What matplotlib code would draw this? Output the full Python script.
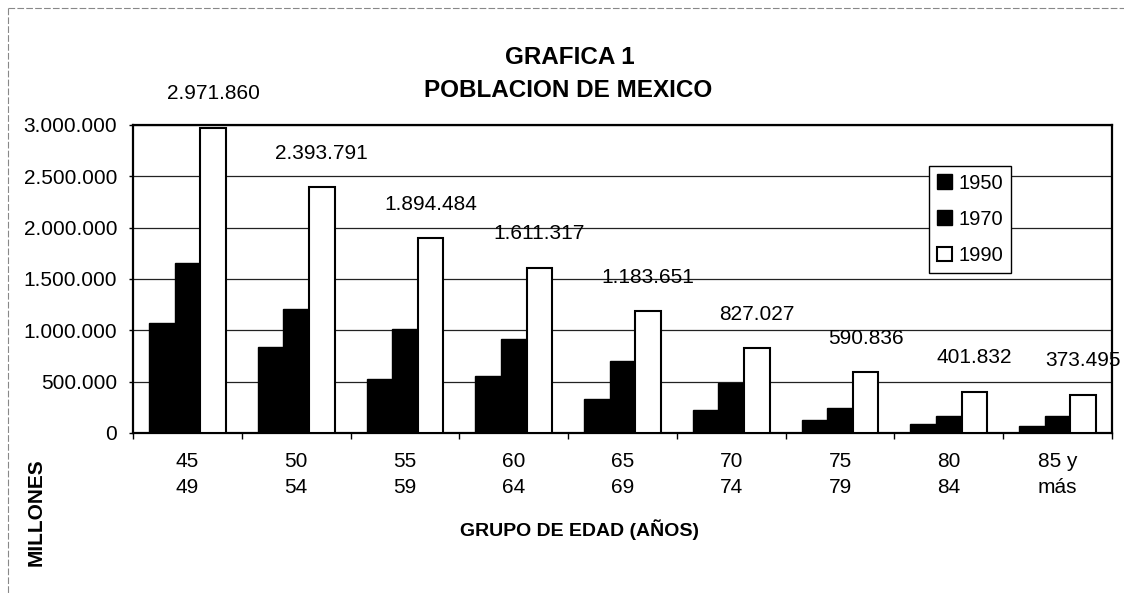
import matplotlib.pyplot as plt
import numpy as np
from matplotlib.lines import Line2D
from matplotlib.ticker import FuncFormatter, FixedLocator

plt.rcParams['font.family'] = ['Liberation Sans', 'DejaVu Sans']

# datos
grupos = ['45\n49', '50\n54', '55\n59', '60\n64', '65\n69', '70\n74', '75\n79', '80\n84', '85 y\nmás']
pob_1950 = [1074000, 841000, 528000, 558000, 331000, 227000, 127000, 85000, 65000]
pob_1970 = [1653000, 1208000, 1013000, 913000, 701000, 487000, 246000, 163000, 163000]
pob_1990 = [2971860, 2393791, 1894484, 1611317, 1183651, 827027, 590836, 401832, 373495]
etiquetas_1990 = ['2.971.860', '2.393.791', '1.894.484', '1.611.317', '1.183.651',
                  '827.027', '590.836', '401.832', '373.495']

fig = plt.figure(figsize=(11.24, 5.99), dpi=100)
ax = fig.add_axes([133 / 1124, 1 - 433 / 599, 979 / 1124, 308 / 599])

x = np.arange(len(grupos))
w = 0.235
ax.bar(x - w, pob_1950, w, color='black', edgecolor='black', linewidth=1, label='1950', zorder=3)
ax.bar(x, pob_1970, w, color='black', edgecolor='black', linewidth=1, label='1970', zorder=3)
ax.bar(x + w, pob_1990, w, color='white', edgecolor='black', linewidth=1.5, label='1990', zorder=3)

# etiquetas de 1990
for xi, v, t in zip(x, pob_1990, etiquetas_1990):
    ax.annotate(t, xy=(xi + w, v), xytext=(0, 24.5), textcoords='offset points',
                ha='center', va='center', fontsize=15, zorder=5)

ax.set_xlim(-0.5, len(grupos) - 0.5)
ax.set_ylim(0, 3000000)
ax.set_yticks(np.arange(0, 3000001, 500000))
ax.yaxis.set_major_formatter(FuncFormatter(lambda v, p: f"{int(v):,}".replace(',', '.')))
ax.grid(axis='y', color='#222222', linewidth=0.9, zorder=0)

# ticks entre grupos, etiquetas al centro
ax.xaxis.set_major_locator(FixedLocator(np.arange(len(grupos) + 1) - 0.5))
ax.xaxis.set_minor_locator(FixedLocator(x))
ax.set_xticklabels([''] * (len(grupos) + 1))
ax.set_xticklabels(grupos, minor=True, linespacing=1.45)
ax.tick_params(axis='x', which='major', direction='out', length=4, width=1)
ax.tick_params(axis='x', which='minor', length=0, pad=14, labelsize=15)
ax.tick_params(axis='y', direction='out', length=3, width=1, pad=8.5, labelsize=15)

for s in ax.spines.values():
    s.set_linewidth(1.6)
    s.set_color('black')

leg = ax.legend(loc='upper left', bbox_to_anchor=(0.813, 0.868), fontsize=14.5,
                frameon=True, fancybox=False, edgecolor='black', framealpha=1,
                handlelength=0.75, handleheight=0.75, handletextpad=0.3,
                labelspacing=0.85, borderpad=0.4, borderaxespad=0)
leg.get_frame().set_linewidth(1)
leg.set_zorder(6)

fig.text(570 / 1124, 1 - 57 / 599, 'GRAFICA 1', ha='center', va='center',
         fontsize=17.5, fontweight='bold')
fig.text(568 / 1124, 1 - 90 / 599, 'POBLACION DE MEXICO', ha='center', va='center',
         fontsize=17.5, fontweight='bold')
fig.text(580 / 1124, 1 - 530 / 599, 'GRUPO DE EDAD (AÑOS)', ha='center', va='center',
         fontsize=14, fontweight='bold', family=['Liberation Sans Narrow', 'Liberation Sans'])
fig.text(36 / 1124, 1 - 512 / 599, 'MILLONES', ha='center', va='center', rotation=90,
         fontsize=15, fontweight='bold')

# borde de la pagina escaneada
fig.add_artist(Line2D([8 / 1124, 1], [1 - 8 / 599, 1 - 8 / 599], color='#888888',
                      linewidth=0.8, linestyle=(0, (6, 2))))
fig.add_artist(Line2D([8 / 1124, 8 / 1124], [1 - 8 / 599, 0.01], color='#888888',
                      linewidth=0.8, linestyle=(0, (6, 2))))

fig.savefig('out.png', dpi=100)
